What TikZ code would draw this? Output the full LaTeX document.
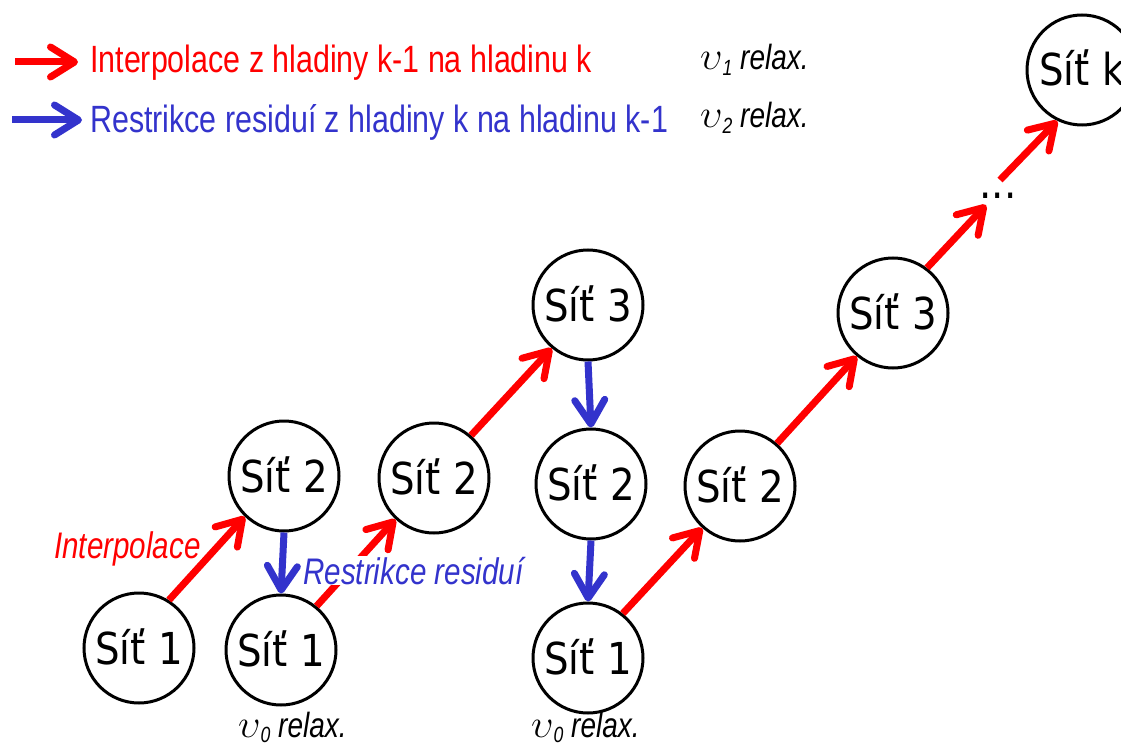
\documentclass[tikz,border=0pt]{standalone}
\usepackage{fontspec}
\usepackage{graphicx}
\usetikzlibrary{arrows.meta}
\newfontfamily\narrow{Liberation Sans}[FakeStretch=0.8]
\newfontfamily\tah{DejaVu Sans}[FakeStretch=0.88]
\definecolor{myred}{RGB}{255,0,0}
\definecolor{myblue}{RGB}{51,51,204}
\newcommand{\upsrel}[1]{\scalebox{1.6}{$\upsilon$}\raisebox{-0.3ex}{\fontsize{22}{24}\selectfont #1} relax.}
\begin{document}
\begin{tikzpicture}[x=1pt,y=-1pt,
  net/.style={circle,draw,line width=3pt,minimum size=110pt,inner sep=0pt,
    text height=32pt,text depth=0pt,font=\tah\fontsize{44}{48}\selectfont},
  arr/.style={line width=7pt,-{Straight Barb[round,length=24pt,width=30pt]}},
  interp/.style={arr,draw=myred},
  restr/.style={arr,draw=myblue},
  legtext/.style={anchor=base west,inner sep=0pt,font=\narrow\fontsize{38}{40}\selectfont},
  lab/.style={anchor=base west,inner sep=1pt,font=\narrow\itshape\fontsize{37}{40}\selectfont},
  relaxlab/.style={anchor=base west,inner sep=0pt,font=\narrow\itshape\fontsize{35}{38}\selectfont}]
\useasboundingbox (0,0) rectangle (1121,746);

% legend
\coordinate (l1s) at (15,62);  \coordinate (l1e) at (78,62);
\coordinate (l2s) at (12,120); \coordinate (l2e) at (82,120);
\draw[interp] (l1s) -- (l1e);
\draw[restr] (l2s) -- (l2e);
\node[legtext,text=myred] (t1) at (90,73) {Interpolace z hladiny k-1 na hladinu k};
\node[legtext,text=myblue] (t2) at (90,133) {Restrikce residuí z hladiny k na hladinu k-1};
\node[relaxlab] (r1) at (700,70) {\upsrel{1}};
\node[relaxlab] (r2) at (700,128) {\upsrel{2}};

% grids
\node[net] (a) at (139,648) {Síť 1};
\node[net] (b) at (281,650) {Síť 1};
\node[net] (c) at (284,476) {Síť 2};
\node[net] (d) at (434,478) {Síť 2};
\node[net] (e) at (588,305) {Síť 3};
\node[net] (f) at (591,484) {Síť 2};
\node[net] (g) at (588,658) {Síť 1};
\node[net] (h) at (740,486) {Síť 2};
\node[net] (i) at (893,313) {Síť 3};
\node[net] (k) at (1082,70) {Síť k};
\node[anchor=base,inner sep=0pt,font=\tah\fontsize{44}{48}\selectfont] (dots) at (998,199) {...};
\coordinate (dIn) at (986,205);
\coordinate (dOut) at (1000,180);

% connectors
\draw[interp] (a.58) -- (c.226);
\draw[restr] (c.south) -- (b.north);
\draw[interp] (b.51) -- (d.227);
\draw[interp] (d.49) -- (e.230);
\draw[restr] (e.south) -- (f.north);
\draw[restr] (f.south) -- (g.north);
\draw[interp] (g.52) -- (h.228);
\draw[interp] (h.49) -- (i.230);
\draw[interp] (i.53) -- (dIn);
\draw[interp] (dOut) -- (k.244);

% labels
\node[lab,text=myred] (li) at (53,558) {Interpolace};
\node[lab,text=myblue,fill=white] (lr) at (302,584) {Restrikce residuí};
\node[relaxlab] (r0a) at (238,737) {\upsrel{0}};
\node[relaxlab] (r0b) at (531,737) {\upsrel{0}};
\end{tikzpicture}
\end{document}
